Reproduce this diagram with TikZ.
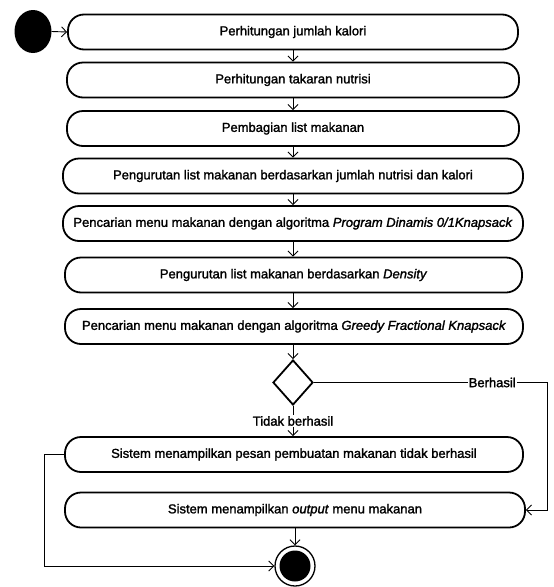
\documentclass[tikz,border=0pt]{standalone}
\usepackage{fontspec}
\setmainfont{Liberation Sans}[FakeBold=1.6]
\usetikzlibrary{shapes.geometric,arrows.meta}
\begin{document}
\begin{tikzpicture}[x=1pt,y=-1pt,
  act/.style={draw, line width=1.8pt, rounded corners=16pt, minimum height=35pt, inner sep=0pt, font=\fontsize{13}{15}\selectfont},
  flow/.style={line width=0.9pt, -{Straight Barb[length=5pt,width=10pt,line width=0.9pt]}},
  lbl/.style={fill=white, inner sep=1pt, font=\fontsize{13}{15}\selectfont}]
\useasboundingbox (0,0) rectangle (554,587);
\node[fill=black, ellipse, minimum width=37pt, minimum height=43pt, inner sep=0pt] (start) at (33,31.5) {};
\node[act, minimum width=450pt] (a1) at (293,32) {Perhitungan jumlah kalori};
\node[act, minimum width=452pt] (a2) at (293,80) {Perhitungan takaran nutrisi};
\node[act, minimum width=452pt] (a3) at (293,128.5) {Pembagian list makanan};
\node[act, minimum width=460pt] (a4) at (293,176) {Pengurutan list makanan berdasarkan jumlah nutrisi dan kalori};
\node[act, minimum width=460pt] (a5) at (293,223.5) {Pencarian menu makanan dengan algoritma \textit{Program Dinamis 0/1Knapsack}};
\node[act, minimum width=457pt] (a6) at (293.5,275) {Pengurutan list makanan berdasarkan \textit{Density}};
\node[act, minimum width=458pt] (a7) at (294,326.5) {Pencarian menu makanan dengan algoritma \textit{Greedy Fractional Knapsack}};
\node[diamond, draw, line width=1.8pt, minimum width=40pt, minimum height=45pt, inner sep=0pt] (d) at (293,382.5) {};
\node[act, minimum width=458pt] (a8) at (294,454.5) {Sistem menampilkan pesan pembuatan makanan tidak berhasil};
\node[act, minimum width=460pt] (a9) at (295,510) {Sistem menampilkan \textit{output} menu makanan};
\node[circle, draw, line width=1.3pt, minimum size=40pt, inner sep=0pt] (end) at (295,566) {};
\node[circle, fill=black, minimum size=31pt, inner sep=0pt] (endin) at (295,566) {};
\coordinate (rc) at (547,382.5);
\coordinate (lc) at (44,454.5);
\draw[flow] (start.east) -- (a1.west);
\draw[flow] (a1.south -| 293,0) -- (a2.north -| 293,0);
\draw[flow] (a2.south -| 293,0) -- (a3.north -| 293,0);
\draw[flow] (a3.south -| 293,0) -- (a4.north -| 293,0);
\draw[flow] (a4.south -| 293,0) -- (a5.north -| 293,0);
\draw[flow] (a5.south -| 293,0) -- (a6.north -| 293,0);
\draw[flow] (a6.south -| 293,0) -- (a7.north -| 293,0);
\draw[flow] (a7.south -| d) -- (d.north);
\draw[flow] (d.south) -- node[lbl]{Tidak berhasil} (a8.north -| d);
\draw[flow] (d.east) -- node[lbl, pos=0.765]{Berhasil} (rc) |- (a9.east);
\draw[flow] (a8.west) -- (lc) |- (end.west);
\draw[flow] (a9.south -| end) -- (end.north);
\end{tikzpicture}
\end{document}
